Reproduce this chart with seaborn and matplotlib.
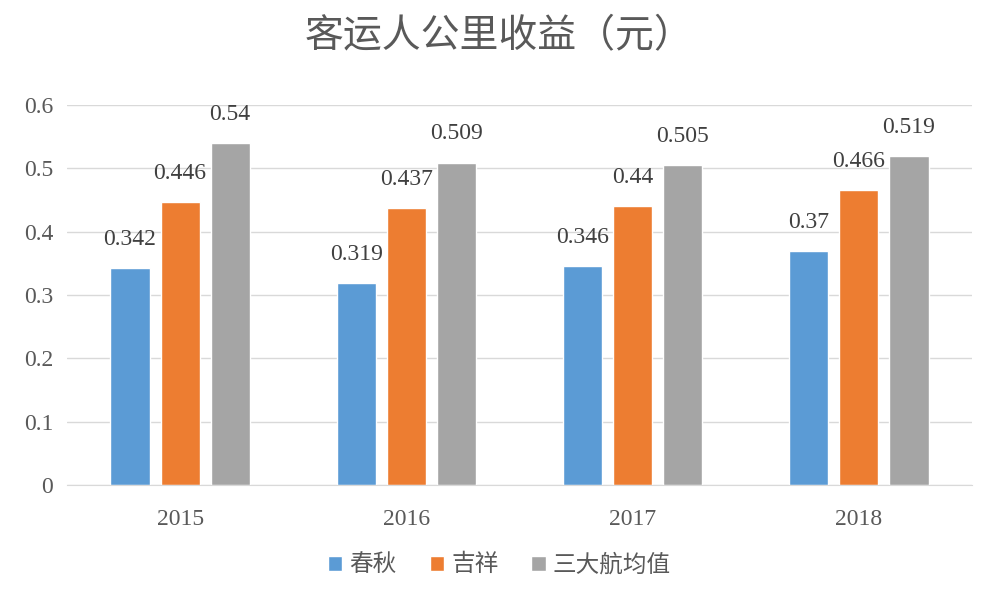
import matplotlib
matplotlib.use('Agg')
import matplotlib.pyplot as plt
import seaborn as sns
import pandas as pd

years = ['2015', '2016', '2017', '2018']
series = ['春秋', '吉祥', '三大航均值']
chunqiu = [0.342, 0.319, 0.346, 0.37]
jixiang = [0.446, 0.437, 0.44, 0.466]
sanda = [0.54, 0.509, 0.505, 0.519]
colors = ['#5B9BD5', '#ED7D31', '#A5A5A5']
yticks = [0, 0.1, 0.2, 0.3, 0.4, 0.5, 0.6]
ytick_labels = ['0', '0.1', '0.2', '0.3', '0.4', '0.5', '0.6']

df = pd.DataFrame({
    'year': years * 3,
    'series': [series[0]] * 4 + [series[1]] * 4 + [series[2]] * 4,
    'value': chunqiu + jixiang + sanda,
})

sns.set_style('white')
plt.rcParams['font.family'] = ['Noto Sans CJK SC', 'DejaVu Sans']
serif = ['Liberation Serif', 'DejaVu Serif']
txt = '#595959'

fig = plt.figure(figsize=(9.99, 5.99), dpi=100)
ax = fig.add_axes([0.067, 0.19, 0.906, 0.635])

sns.barplot(data=df, x='year', y='value', hue='series', palette=colors,
            width=0.664, gap=0.22, ax=ax, legend=True, saturation=1)

ax.set_ylim(0, 0.6)
ax.set_yticks(yticks)
ax.set_yticklabels(ytick_labels, fontfamily=serif, fontsize=17, color=txt)
ax.set_xticks(range(len(years)))
ax.set_xticklabels(years, fontfamily=serif, fontsize=17, color=txt)
ax.tick_params(axis='y', length=0, pad=10)
ax.tick_params(axis='x', length=0, pad=17)
ax.set_xlabel('')
ax.set_ylabel('')
ax.grid(axis='y', color='#D9D9D9', linewidth=1)
ax.set_axisbelow(True)
for s in ['left', 'right', 'top']:
    ax.spines[s].set_visible(False)
ax.spines['bottom'].set_color('#D9D9D9')

for cont in ax.containers:
    ax.bar_label(cont, labels=[f'{v:g}' for v in cont.datavalues], padding=13,
                 fontfamily=serif, fontsize=17, color='#404040')

handles, labels = ax.get_legend_handles_labels()
ax.get_legend().remove()
fig.legend(handles, labels, loc='center', bbox_to_anchor=(0.5, 0.057), ncol=3,
           frameon=False, fontsize=17, handlelength=0.6, handleheight=0.6,
           handletextpad=0.3, columnspacing=1.4, labelcolor=txt)

fig.text(0.5, 0.94, '客运人公里收益（元）', ha='center', va='center',
         fontsize=28, color=txt)

fig.savefig('out.png', dpi=100)
